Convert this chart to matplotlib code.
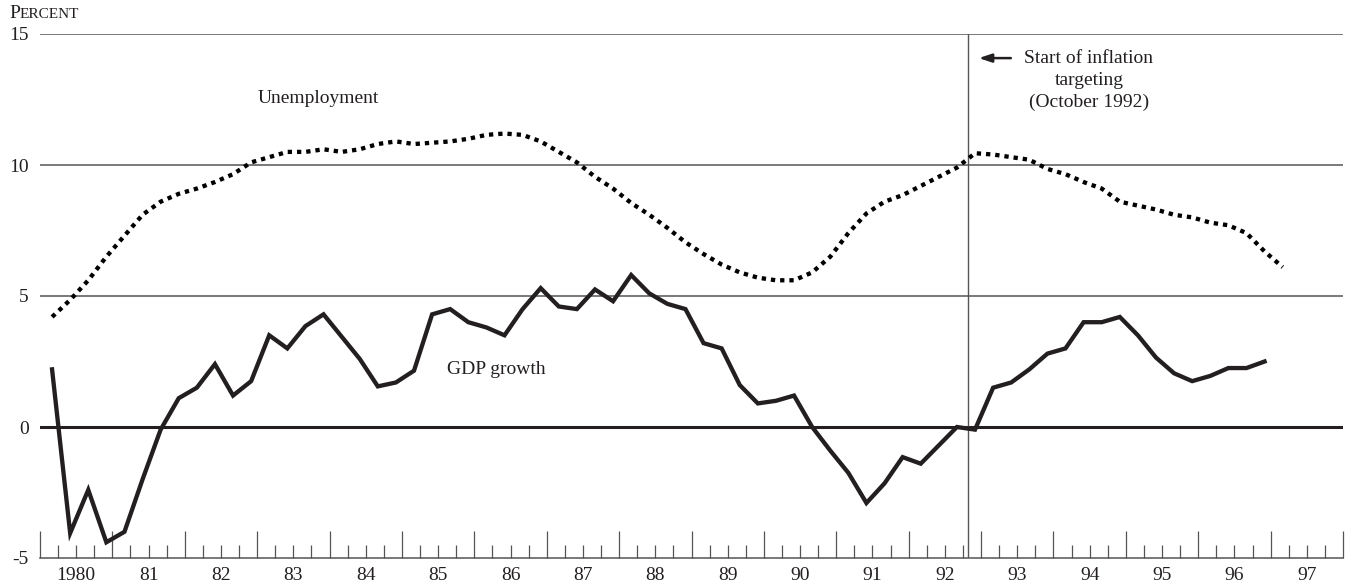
# GDP growth and unemployment, 1980-1997, with start of inflation targeting
import numpy as np
import matplotlib
matplotlib.use('Agg')
import matplotlib.pyplot as plt
from matplotlib.transforms import blended_transform_factory

plt.rcParams['font.family'] = ['Liberation Serif', 'DejaVu Serif']

# Data (quarterly)
START = 1980 + 2 / 12          # first observation position
STEP = 0.25

gdp_growth = [2.2, -4.05, -2.4, -4.4, -4.0, -2.0, -0.1, 1.1, 1.5, 2.4,
              1.2, 1.75, 3.5, 3.0, 3.85, 4.3, 3.45, 2.6, 1.55, 1.7,
              2.15, 4.3, 4.5, 4.0, 3.8, 3.5, 4.5, 5.3, 4.6, 4.5,
              5.25, 4.8, 5.8, 5.1, 4.7, 4.5, 3.2, 3.0, 1.6, 0.9,
              1.0, 1.2, 0.0, -0.9, -1.75, -2.9, -2.15, -1.15, -1.4, -0.7,
              0.0, -0.1, 1.5, 1.7, 2.2, 2.8, 3.0, 4.0, 4.0, 4.2,
              3.5, 2.65, 2.05, 1.75, 1.95, 2.25, 2.25, 2.5]

unemployment = [4.2, 4.85, 5.6, 6.5, 7.3, 8.1, 8.6, 8.9, 9.1, 9.35,
                9.65, 10.1, 10.3, 10.5, 10.5, 10.6, 10.5, 10.6, 10.8, 10.9,
                10.8, 10.85, 10.9, 11.0, 11.15, 11.2, 11.15, 10.9, 10.5, 10.1,
                9.55, 9.1, 8.55, 8.1, 7.6, 7.05, 6.6, 6.2, 5.9, 5.7,
                5.6, 5.6, 5.9, 6.5, 7.4, 8.15, 8.6, 8.85, 9.2, 9.55,
                9.9, 10.45, 10.4, 10.3, 10.2, 9.85, 9.65, 9.35, 9.1, 8.6,
                8.45, 8.3, 8.1, 8.0, 7.8, 7.7, 7.4, 6.7, 6.1]

year_labels = ['1980', '81', '82', '83', '84', '85', '86', '87', '88',
               '89', '90', '91', '92', '93', '94', '95', '96', '97']
y_ticks = [-5, 0, 5, 10, 15]
y_tick_labels = ['-5', '0', '5', '10', '15']
TARGETING_START = 1992.82

x_gdp = START + STEP * np.arange(len(gdp_growth))
x_unemp = START + STEP * np.arange(len(unemployment))

INK = '#231f20'
GRID = '#555555'
FS = 14

fig = plt.figure(figsize=(13.53, 5.87), dpi=100)
ax = fig.add_axes([40 / 1353, 29 / 587, 1303 / 1353, 524 / 587])

ax.set_xlim(1980, 1998)
ax.set_ylim(-5, 15)

# horizontal reference lines
for y in [5, 10, 15]:
    ax.axhline(y, color=GRID, lw=1.1, zorder=1)
ax.axhline(0, color=INK, lw=2.2, zorder=1)
ax.axvline(TARGETING_START, color=GRID, lw=1.0, zorder=1)

# series
ax.plot(x_unemp, unemployment, color='black', lw=3.1,
        linestyle=(0, (1.0, 1.15)), dash_capstyle='butt', zorder=3)
ax.plot(x_gdp, gdp_growth, color=INK, lw=3.1, solid_joinstyle='miter', zorder=3)

# spines and ticks
for side in ['left', 'right', 'top']:
    ax.spines[side].set_visible(False)
ax.spines['bottom'].set_color(GRID)
ax.spines['bottom'].set_linewidth(1.1)

years = np.arange(1980, 1999)
quarters = [y + q / 4 for y in range(1980, 1998) for q in (1, 2, 3)]
ax.set_xticks(years)
ax.set_xticks(quarters, minor=True)
ax.tick_params(axis='x', which='major', direction='in', length=19.5,
               width=0.9, color=GRID, labelbottom=False)
ax.tick_params(axis='x', which='minor', direction='in', length=9.5,
               width=0.9, color=GRID)

ax.set_yticks(y_ticks)
ax.set_yticklabels(y_tick_labels, fontsize=FS, color=INK)
ax.tick_params(axis='y', length=0, pad=8)

trans = blended_transform_factory(ax.transData, ax.transAxes)
for yr, lab in zip(range(1980, 1998), year_labels):
    ax.text(yr + 0.5, -0.033, lab, transform=trans, ha='center', va='center',
            fontsize=FS, color=INK)

# "Percent" in small caps
fig.text(9 / 1353, 1 - 14 / 587, 'P', fontsize=14, color=INK, va='center', ha='left')
fig.text(20 / 1353, 1 - 14.8 / 587, 'ERCENT', fontsize=11, color=INK, va='center', ha='left')

# labels
ax.text(1983.84, 12.55, 'Unemployment', ha='center', va='center', fontsize=FS, color=INK)
ax.text(1986.31, 2.2, 'GDP growth', ha='center', va='center', fontsize=FS, color=INK)
ax.text(1994.49, 14.4, 'Start of inflation\ntargeting\n(October 1992)', ha='center',
        va='top', fontsize=FS, color=INK, linespacing=1.38)
ax.annotate('', xy=(1992.93, 14.08), xytext=(1993.45, 14.08),
            arrowprops=dict(arrowstyle='-|>,head_length=0.75,head_width=0.25',
                            color=INK, lw=1.8))

fig.savefig('out.png', dpi=100)
